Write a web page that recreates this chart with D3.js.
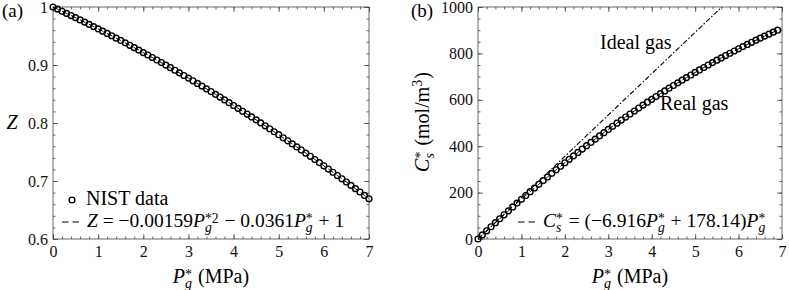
<!DOCTYPE html>
<html>
<head>
<meta charset="utf-8">
<script src="https://cdn.jsdelivr.net/npm/d3@7"></script>
<style>
  body { margin: 0; background: #fff; }
  svg { display: block; }
</style>
</head>
<body>
<svg id="chart" width="789" height="290"></svg>
<script>
// ---- data ----
// (a) compressibility factor, NIST points every 0.1 MPa
const pA = d3.range(71).map(i => +(i * 0.1).toFixed(1));
const zNist = [
  1.0000, 0.9964, 0.9927, 0.9890, 0.9853, 0.9816, 0.9778, 0.9740, 0.9701, 0.9662,
  0.9623, 0.9584, 0.9544, 0.9504, 0.9463, 0.9423, 0.9382, 0.9340, 0.9299, 0.9257,
  0.9214, 0.9172, 0.9129, 0.9086, 0.9042, 0.8998, 0.8954, 0.8909, 0.8865, 0.8819,
  0.8774, 0.8728, 0.8682, 0.8636, 0.8589, 0.8542, 0.8494, 0.8447, 0.8399, 0.8350,
  0.8302, 0.8253, 0.8203, 0.8154, 0.8104, 0.8054, 0.8003, 0.7952, 0.7901, 0.7849,
  0.7798, 0.7745, 0.7693, 0.7640, 0.7587, 0.7534, 0.7480, 0.7426, 0.7371, 0.7317,
  0.7262, 0.7206, 0.7151, 0.7095, 0.7038, 0.6982, 0.6925, 0.6868, 0.6810, 0.6752,
  0.6694
];
// (b) gas concentration, points every 0.1 MPa up to 6.9
const pB = d3.range(70).map(i => +(i * 0.1).toFixed(1));
const cReal = [
  0.0, 17.7, 35.4, 52.8, 70.2, 87.3, 104.4, 121.3, 138.1, 154.7,
  171.2, 187.6, 203.8, 219.9, 235.8, 251.7, 267.3, 282.9, 298.2, 313.5,
  328.6, 343.6, 358.4, 373.1, 387.7, 402.1, 416.4, 430.6, 444.6, 458.4,
  472.2, 485.8, 499.2, 512.6, 525.7, 538.8, 551.7, 564.4, 577.1, 589.6,
  601.9, 614.1, 626.2, 638.1, 649.9, 661.6, 673.1, 684.5, 695.7, 706.8,
  717.8, 728.6, 739.3, 749.9, 760.3, 770.6, 780.7, 790.7, 800.6, 810.3,
  819.9, 829.3, 838.6, 847.8, 856.8, 865.7, 874.5, 883.1, 891.6, 899.9
];
// ideal gas straight line (dash-dot)
const idealP = [0, 7];
const idealC = [0, 1247];

const xTicks = [0, 1, 2, 3, 4, 5, 6, 7];
const zTicks = [0.6, 0.7, 0.8, 0.9, 1];
const cTicks = [0, 200, 400, 600, 800, 1000];

const FONT = '"Liberation Serif", "Times New Roman", serif';
const frame = "#444";

const svg = d3.select("#chart");

function label(sel, x, y, size, str) {
  return sel.append("text").attr("x", x).attr("y", y)
    .style("font-family", FONT).attr("font-size", size).text(str);
}

// lay out a bit of "math": runs of text, italics, and stacked sup/sub
function mathText(sel, x, y, parts, size, anchor) {
  const g = sel.append("g").attr("fill", "#000");
  let cx = 0;
  parts.forEach(p => {
    if (p.sup !== undefined || p.sub !== undefined) {
      const sm = size * 0.7;
      let w = 0;
      if (p.sup !== undefined) {
        const t = label(g, cx, -size * (p.sup[0] === "*" ? 0.22 : 0.36), sm, p.sup);
        w = Math.max(w, t.node().getComputedTextLength());
      }
      if (p.sub !== undefined) {
        const t = label(g, cx, size * 0.24, sm, p.sub).style("font-style", "italic");
        w = Math.max(w, t.node().getComputedTextLength());
      }
      cx += w + 1;
    } else {
      const t = label(g, cx, 0, size, p.t).style("font-style", p.i ? "italic" : "normal");
      cx += t.node().getComputedTextLength();
    }
  });
  const off = anchor === "middle" ? -cx / 2 : anchor === "end" ? -cx : 0;
  g.attr("transform", `translate(${x + off},${y})`);
  return g;
}

function drawAxes(x, y, yTicks, yMinor, yFmt) {
  const [x0, x1] = x.range();
  const [y0, y1] = y.range();
  const xMinor = d3.range(0, 7.001, 0.2);

  const g = svg.append("g");
  // minor ticks, all four sides
  g.append("g").attr("transform", `translate(0,${y0})`)
    .call(d3.axisBottom(x).tickValues(xMinor).tickSize(-2.5).tickFormat(""));
  g.append("g").attr("transform", `translate(0,${y1})`)
    .call(d3.axisTop(x).tickValues(xMinor).tickSize(-2.5).tickFormat(""));
  g.append("g").attr("transform", `translate(${x0},0)`)
    .call(d3.axisLeft(y).tickValues(yMinor).tickSize(-2.5).tickFormat(""));
  g.append("g").attr("transform", `translate(${x1},0)`)
    .call(d3.axisRight(y).tickValues(yMinor).tickSize(-2.5).tickFormat(""));
  // major ticks
  g.append("g").attr("transform", `translate(0,${y0})`)
    .call(d3.axisBottom(x).tickValues(xTicks).tickSize(-5).tickPadding(7).tickFormat(d3.format("d")));
  g.append("g").attr("transform", `translate(0,${y1})`)
    .call(d3.axisTop(x).tickValues(xTicks).tickSize(-5).tickFormat(""));
  g.append("g").attr("transform", `translate(${x0},0)`)
    .call(d3.axisLeft(y).tickValues(yTicks).tickSize(-5).tickPadding(5).tickFormat(yFmt));
  g.append("g").attr("transform", `translate(${x1},0)`)
    .call(d3.axisRight(y).tickValues(yTicks).tickSize(-5).tickFormat(""));

  g.selectAll(".domain").remove();
  g.selectAll(".tick line").attr("stroke", frame).attr("stroke-width", 0.8);
  g.selectAll(".tick text").style("font-family", FONT).attr("font-size", 16).attr("fill", "#111");

  g.append("rect")
    .attr("x", x0).attr("y", y1)
    .attr("width", x1 - x0).attr("height", y0 - y1)
    .attr("fill", "none").attr("stroke", frame).attr("stroke-width", 0.8);
}

function drawCircles(x, y, px, py) {
  svg.append("g")
    .selectAll("circle")
    .data(px)
    .join("circle")
    .attr("cx", d => x(d))
    .attr("cy", (d, i) => y(py[i]))
    .attr("r", 2.9)
    .attr("fill", "none")
    .attr("stroke", "#000")
    .attr("stroke-width", 1.4);
}

// ---------- panel (a) ----------
const xA = d3.scaleLinear([0, 7], [53, 369]);
const yA = d3.scaleLinear([0.6, 1], [239, 7]);

drawAxes(xA, yA, zTicks, d3.range(0.6, 1.0001, 0.02), d => d === 1 ? "1" : d3.format(".1f")(d));

// fitted curve (dashed) sits under the markers
svg.append("path")
  .datum(pA)
  .attr("fill", "none")
  .attr("stroke", "#000")
  .attr("stroke-width", 1)
  .attr("stroke-dasharray", "6,4")
  .attr("d", d3.line().x(d => xA(d)).y((d, i) => yA(zNist[i])));

drawCircles(xA, yA, pA, zNist);

// legend (a)
svg.append("circle").attr("cx", 72).attr("cy", 200).attr("r", 2.9)
  .attr("fill", "none").attr("stroke", "#000").attr("stroke-width", 1.4);
label(svg, 86, 205, 20, "NIST data");
svg.append("line").attr("x1", 62).attr("x2", 82).attr("y1", 222).attr("y2", 222)
  .attr("stroke", "#000").attr("stroke-width", 1.1).attr("stroke-dasharray", "6.5,4");
mathText(svg, 87, 227, [
  { t: "Z", i: true }, { t: "\u00A0=\u00A0\u22120.00159" },
  { t: "P", i: true }, { sup: "*2", sub: "g" },
  { t: "\u00A0\u2212\u00A00.0361" },
  { t: "P", i: true }, { sup: "*", sub: "g" },
  { t: "\u00A0+\u00A01" }
], 19.5, "start");

// axis labels (a)
mathText(svg, 211, 283, [{ t: "P", i: true }, { sup: "*", sub: "g" }, { t: "\u00A0(MPa)" }], 20, "middle");
mathText(svg, 12, 129, [{ t: "Z", i: true }], 20, "middle");
label(svg, 2, 17, 19, "(a)");

// ---------- panel (b) ----------
const xB = d3.scaleLinear([0, 7], [478, 782]);
const yB = d3.scaleLinear([0, 1000], [239, 7]);

drawAxes(xB, yB, cTicks, d3.range(0, 1000.1, 50), d3.format("d"));

svg.append("clipPath").attr("id", "clipB")
  .append("rect").attr("x", 478).attr("y", 7).attr("width", 304).attr("height", 232);

svg.append("path")
  .datum(idealP)
  .attr("clip-path", "url(#clipB)")
  .attr("fill", "none")
  .attr("stroke", "#000")
  .attr("stroke-width", 1.1)
  .attr("stroke-dasharray", "5,2,1.5,2")
  .attr("d", d3.line().x(d => xB(d)).y((d, i) => yB(idealC[i])));

svg.append("path")
  .datum(pB)
  .attr("fill", "none")
  .attr("stroke", "#000")
  .attr("stroke-width", 1)
  .attr("stroke-dasharray", "6,4")
  .attr("d", d3.line().x(d => xB(d)).y((d, i) => yB(cReal[i])));

drawCircles(xB, yB, pB, cReal);

label(svg, 600, 49, 20, "Ideal gas");
label(svg, 660, 110, 20, "Real gas");

// legend (b)
svg.append("line").attr("x1", 518).attr("x2", 538).attr("y1", 222).attr("y2", 222)
  .attr("stroke", "#000").attr("stroke-width", 1.1).attr("stroke-dasharray", "6.5,4");
mathText(svg, 543, 227, [
  { t: "C", i: true }, { sup: "*", sub: "s" },
  { t: "\u00A0=\u00A0(\u22126.916" },
  { t: "P", i: true }, { sup: "*", sub: "g" },
  { t: "\u00A0+\u00A0178.14)" },
  { t: "P", i: true }, { sup: "*", sub: "g" }
], 19.5, "start");

// axis labels (b)
mathText(svg, 630, 283, [{ t: "P", i: true }, { sup: "*", sub: "g" }, { t: "\u00A0(MPa)" }], 20, "middle");
const rot = svg.append("g").attr("transform", "translate(429,122) rotate(-90)");
mathText(rot, 0, 0, [
  { t: "C", i: true }, { sup: "*", sub: "s" },
  { t: "\u00A0(mol/m" }, { sup: "3" }, { t: ")" }
], 20, "middle");
label(svg, 411, 17, 19, "(b)");
</script>
</body>
</html>
